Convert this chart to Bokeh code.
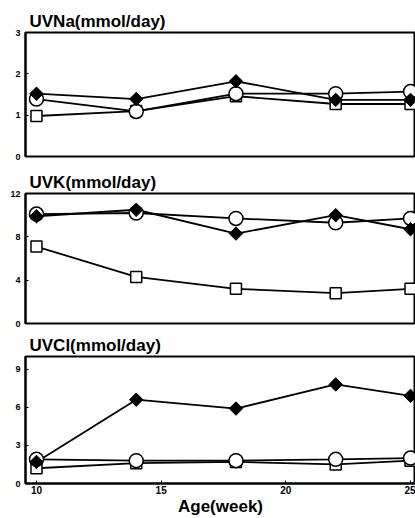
from bokeh.plotting import figure
from bokeh.layouts import column
from bokeh.embed import file_html
from bokeh.resources import INLINE
from bokeh.models import FixedTicker, Range1d
import math

age = [10, 14, 18, 22, 25]

na_diamond = [1.52, 1.39, 1.82, 1.37, 1.37]
na_circle = [1.39, 1.09, 1.52, 1.52, 1.57]
na_square = [0.98, 1.10, 1.46, 1.27, 1.27]

k_diamond = [9.9, 10.5, 8.3, 10.0, 8.7]
k_circle = [10.1, 10.2, 9.7, 9.3, 9.7]
k_square = [7.1, 4.3, 3.2, 2.8, 3.2]

cl_diamond = [1.7, 6.6, 5.9, 7.8, 6.9]
cl_circle = [1.9, 1.8, 1.8, 1.9, 2.0]
cl_square = [1.2, 1.6, 1.7, 1.5, 1.8]

titles = ["UVNa(mmol/day)", "UVK(mmol/day)", "UVCl(mmol/day)"]
y_ends = [3, 12, 10]
y_ticks = [[0, 1, 2, 3], [0, 4, 8, 12], [0, 3, 6, 9]]
x_ticks = [10, 15, 20, 25]
x_label = "Age(week)"

FONT = "Liberation Sans"


def make_panel(i, diamond, circle, square, height, top, bottom, last):
    p = figure(width=415, height=height, output_backend="svg", toolbar_location=None,
               x_range=Range1d(9.56, 25.2), y_range=Range1d(0, y_ends[i]),
               min_border_left=25, min_border_right=0,
               min_border_top=top, min_border_bottom=bottom)
    p.title.text = titles[i]
    p.title.text_font = FONT
    p.title.text_font_size = "17px"
    p.title.text_font_style = "bold"
    p.title.text_color = "black"
    p.title.offset = 4
    p.title.standoff = 4
    p.grid.visible = False
    p.outline_line_color = "black"
    p.outline_line_width = 2
    p.outline_line_alpha = 1
    p.background_fill_color = "white"
    p.border_fill_color = "white"

    ya = p.yaxis[0]
    ya.ticker = FixedTicker(ticks=y_ticks[i])
    ya.axis_line_width = 2
    ya.axis_line_color = "black"
    ya.major_tick_in = 3
    ya.major_tick_out = 0
    ya.minor_tick_line_color = None
    ya.major_label_text_font = FONT
    ya.major_label_text_font_style = "bold"
    ya.major_label_text_font_size = "9px"
    ya.major_label_text_color = "black"
    ya.major_label_standoff = 5

    xa = p.xaxis[0]
    if last:
        xa.ticker = FixedTicker(ticks=x_ticks)
        xa.axis_line_width = 2
        xa.axis_line_color = "black"
        xa.major_tick_in = 3
        xa.major_tick_out = 0
        xa.minor_tick_line_color = None
        xa.major_label_text_font = FONT
        xa.major_label_text_font_style = "bold"
        xa.major_label_text_font_size = "10px"
        xa.major_label_text_color = "black"
        xa.major_label_standoff = 2
        xa.axis_label = x_label
        xa.axis_label_text_font = FONT
        xa.axis_label_text_font_style = "bold"
        xa.axis_label_text_font_size = "17px"
        xa.axis_label_text_color = "black"
        xa.axis_label_standoff = 0
    else:
        xa.visible = False

    for ys in (square, circle, diamond):
        p.line(age, ys, line_color="black", line_width=1.8)
    p.scatter(age, square, marker="square", size=11, fill_color="white",
              line_color="black", line_width=1.5)
    p.scatter(age, circle, marker="circle", size=14, fill_color="white",
              line_color="black", line_width=1.5)
    p.scatter(age, diamond, marker="square", size=9.5, angle=math.pi / 4,
              fill_color="black", line_color="black", line_width=1)
    return p


p1 = make_panel(0, na_diamond, na_circle, na_square, 165, 32, 9, False)
p2 = make_panel(1, k_diamond, k_circle, k_square, 166, 28, 8, False)
p3 = make_panel(2, cl_diamond, cl_circle, cl_square, 187, 25, 20, True)

layout = column(p1, p2, p3, spacing=0)
open("out.html", "w").write(file_html(layout, INLINE))
